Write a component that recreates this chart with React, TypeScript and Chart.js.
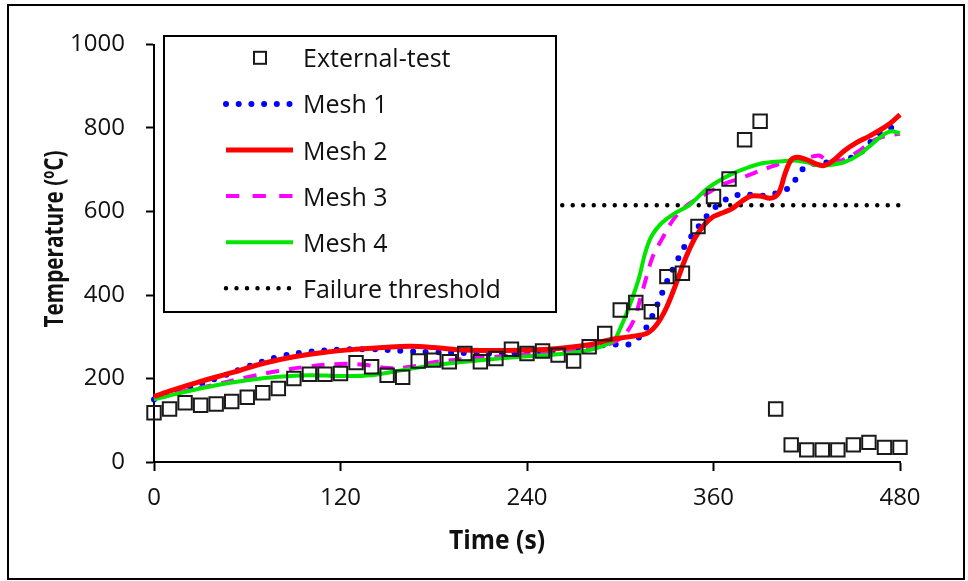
import { useEffect, useRef } from 'react';
import { Chart, registerables } from 'chart.js';

Chart.register(...registerables);

// Measured surface temperature (every 10 s)
const testTimes = [
  0, 10, 20, 30, 40, 50, 60, 70, 80, 90, 100, 110, 120, 130, 140, 150, 160, 170, 180, 190,
  200, 210, 220, 230, 240, 250, 260, 270, 280, 290, 300, 310, 320, 330, 340, 350, 360, 370,
  380, 390, 400, 410, 420, 430, 440, 450, 460, 470, 480,
];
const testTemps = [
  118, 127, 142, 136, 139, 145, 155, 166, 176, 200, 210, 210, 212, 238, 228, 208, 203, 242, 244, 240,
  260, 240, 248, 270, 260, 266, 256, 242, 276, 308, 364, 382, 360, 444, 452, 564, 636, 678,
  772, 816, 127, 41, 29, 29, 29, 41, 47, 35, 35,
];

// Simulated curves
const mesh1Times = [0, 20, 40, 60, 80, 100, 120, 140, 160, 180, 200, 220, 240, 260, 280, 292, 300, 306, 312, 318, 324, 330, 336, 342, 348, 354, 360, 366, 372, 380, 390, 398, 404, 410, 415, 420, 428, 440, 448, 455, 462, 468, 474, 480];
const mesh1Temps = [150, 175, 200, 228, 252, 264, 269, 270, 266, 263, 261, 260, 262, 266, 274, 281, 281, 282, 298, 330, 378, 432, 478, 520, 552, 582, 606, 624, 636, 641, 637, 642, 647, 662, 690, 710, 716, 719, 728, 742, 770, 790, 800, 815];

const mesh2Times = [0, 12, 30, 50, 70, 90, 110, 130, 150, 165, 180, 200, 220, 240, 260, 280, 290, 300, 310, 318, 324, 330, 336, 342, 348, 354, 360, 366, 372, 378, 384, 390, 397, 402, 406, 410, 414, 420, 426, 431, 437, 444, 452, 460, 468, 474, 480];
const mesh2Temps = [157, 172, 193, 214, 236, 252, 263, 270, 275, 277, 274, 268, 267, 268, 272, 281, 290, 297, 302, 310, 332, 372, 428, 488, 536, 568, 588, 597, 607, 624, 637, 637, 632, 645, 690, 724, 730, 724, 714, 710, 722, 745, 765, 780, 797, 812, 832];

const mesh3Times = [0, 20, 40, 60, 80, 100, 120, 135, 150, 165, 180, 200, 220, 240, 260, 280, 290, 298, 304, 309, 313, 317, 321, 327, 334, 342, 350, 358, 366, 376, 386, 396, 406, 416, 424, 428, 432, 438, 446, 454, 462, 470, 480];
const mesh3Temps = [152, 170, 186, 203, 218, 229, 235, 233, 225, 228, 239, 247, 252, 257, 262, 271, 279, 291, 310, 342, 392, 445, 493, 535, 580, 612, 632, 648, 665, 678, 692, 706, 718, 726, 732, 734, 725, 718, 728, 746, 768, 780, 786];

const mesh4Times = [0, 20, 40, 60, 80, 100, 120, 140, 160, 180, 200, 220, 240, 260, 280, 290, 296, 300, 304, 308, 312, 316, 320, 326, 334, 345, 355, 362, 372, 382, 392, 402, 412, 420, 428, 436, 444, 452, 460, 468, 474, 480];
const mesh4Temps = [150, 168, 184, 196, 204, 208, 206, 208, 220, 232, 240, 247, 253, 258, 268, 280, 292, 320, 355, 395, 440, 500, 540, 570, 593, 617, 652, 670, 690, 705, 716, 720, 722, 718, 710, 712, 718, 732, 755, 780, 792, 787];

// Failure threshold line (its left part sits behind the legend box)
const thresholdTimes = [60, 480];
const thresholdTemps = [615, 615];

const xTickValues = [0, 120, 240, 360, 480];
const yTickValues = [0, 200, 400, 600, 800, 1000];

const xTitle = 'Time (s)';
const yTitleMain = 'Temperature (';
const yTitleSup = 'o';
const yTitleEnd = 'C)';

const legendLabels = ['External-test', 'Mesh 1', 'Mesh 2', 'Mesh 3', 'Mesh 4', 'Failure threshold'];

const toPoints = (xs: number[], ys: number[]) => xs.map((x, i) => ({ x, y: ys[i] }));

const FONT = '"Open Sans", "DejaVu Sans", sans-serif';
const TEXT = '#111111';

// Boxed legend drawn inside the plot
const boxLegend = {
  id: 'boxLegend',
  afterDraw(chart: any) {
    const ctx: CanvasRenderingContext2D = chart.ctx;
    const box = { x: 155, y: 30, w: 392, h: 276 };
    ctx.save();
    ctx.fillStyle = '#ffffff';
    ctx.fillRect(box.x, box.y, box.w, box.h);
    ctx.lineWidth = 2;
    ctx.strokeStyle = '#000000';
    ctx.strokeRect(box.x, box.y, box.w, box.h);

    const rowStep = 46.1;
    const firstBase = 61.3;
    const sx0 = 217;
    const sx1 = 284;
    const textX = 294;
    const dsList = chart.data.datasets;

    legendLabels.forEach((label, i) => {
      const base = firstBase + i * rowStep;
      const cy = base - 9.5;
      const ds = dsList.find((d: any) => d.label === label);
      ctx.save();
      if (i === 0) {
        ctx.strokeStyle = ds.pointBorderColor;
        ctx.lineWidth = 2;
        ctx.strokeRect(251 - 6, cy - 6, 12, 12);
      } else {
        ctx.strokeStyle = ds.borderColor;
        ctx.lineWidth = ds.borderWidth;
        ctx.lineCap = ds.borderCapStyle || 'butt';
        ctx.setLineDash(ds.legendDash || ds.borderDash || []);
        ctx.beginPath();
        ctx.moveTo(sx0, cy);
        ctx.lineTo(ds.legendEnd || sx1, cy);
        ctx.stroke();
      }
      ctx.restore();
      ctx.fillStyle = TEXT;
      ctx.font = `25px ${FONT}`;
      ctx.textAlign = 'left';
      ctx.textBaseline = 'alphabetic';
      ctx.fillText(label, textX, base);
    });
    ctx.restore();
  },
};

// Axis titles, condensed to the plot's lettering
const axisTitles = {
  id: 'axisTitles',
  afterDraw(chart: any) {
    const ctx: CanvasRenderingContext2D = chart.ctx;
    ctx.save();
    ctx.fillStyle = TEXT;
    ctx.textBaseline = 'alphabetic';

    // horizontal title
    ctx.font = `bold 27px ${FONT}`;
    const xw = ctx.measureText(xTitle).width;
    ctx.save();
    ctx.translate(488, 543);
    ctx.scale(96 / xw, 1);
    ctx.textAlign = 'center';
    ctx.fillText(xTitle, 0, 0);
    ctx.restore();

    // vertical title with superscript o
    const mainFont = `bold 27px ${FONT}`;
    const supFont = `bold 17px ${FONT}`;
    ctx.font = mainFont;
    const w1 = ctx.measureText(yTitleMain).width;
    const w3 = ctx.measureText(yTitleEnd).width;
    ctx.font = supFont;
    const w2 = ctx.measureText(yTitleSup).width;
    const total = w1 + w2 + w3;
    ctx.save();
    ctx.translate(54, 233);
    ctx.rotate(-Math.PI / 2);
    ctx.scale(177 / total, 1);
    ctx.textAlign = 'left';
    let x = -total / 2;
    ctx.font = mainFont;
    ctx.fillText(yTitleMain, x, 0);
    x += w1;
    ctx.font = supFont;
    ctx.fillText(yTitleSup, x, -9);
    x += w2;
    ctx.font = mainFont;
    ctx.fillText(yTitleEnd, x, 0);
    ctx.restore();

    ctx.restore();
  },
};

export default function App() {
  const canvasRef = useRef<HTMLCanvasElement | null>(null);

  useEffect(() => {
    if (!canvasRef.current) return;
    const chart = new Chart(canvasRef.current, {
      type: 'line',
      data: {
        datasets: [
          {
            label: 'External-test',
            data: toPoints(testTimes, testTemps),
            showLine: false,
            pointStyle: 'rect',
            pointRadius: 9.5,
            pointBorderWidth: 2,
            pointBorderColor: '#1a1a1a',
            pointBackgroundColor: 'rgba(0,0,0,0)',
            borderColor: '#1a1a1a',
            order: 0,
            clip: false,
          },
          {
            label: 'Mesh 1',
            data: toPoints(mesh1Times, mesh1Temps),
            borderColor: '#0000ff',
            borderWidth: 6,
            borderDash: [0, 12.7],
            borderCapStyle: 'round',
            pointRadius: 0,
            tension: 0.35,
            order: 4,
            clip: false,
          } as any,
          {
            label: 'Mesh 2',
            data: toPoints(mesh2Times, mesh2Temps),
            borderColor: '#ff0000',
            borderWidth: 5,
            pointRadius: 0,
            tension: 0.35,
            order: 1,
            clip: false,
          },
          {
            label: 'Mesh 3',
            data: toPoints(mesh3Times, mesh3Temps),
            borderColor: '#ff00ff',
            borderWidth: 4,
            borderDash: [13, 10],
            legendDash: [13.3, 13.3],
            pointRadius: 0,
            tension: 0.35,
            order: 3,
            clip: false,
          } as any,
          {
            label: 'Mesh 4',
            data: toPoints(mesh4Times, mesh4Temps),
            borderColor: '#00e600',
            borderWidth: 4,
            pointRadius: 0,
            tension: 0.35,
            order: 2,
            clip: false,
          },
          {
            label: 'Failure threshold',
            data: toPoints(thresholdTimes, thresholdTemps),
            borderColor: '#000000',
            borderWidth: 4.5,
            borderDash: [0, 10.5],
            borderCapStyle: 'round',
            legendEnd: 281,
            pointRadius: 0,
            tension: 0,
            order: 5,
            clip: false,
          } as any,
        ],
      },
      options: {
        animation: false,
        responsive: false,
        devicePixelRatio: 1,
        layout: { padding: { left: 0, right: 63, top: 38.5, bottom: 0 } },
        plugins: {
          legend: { display: false },
          tooltip: { enabled: false },
        },
        scales: {
          x: {
            type: 'linear',
            min: 0,
            max: 480,
            ticks: {
              stepSize: 120,
              color: TEXT,
              font: { family: FONT, size: 24 },
              padding: 13,
              maxRotation: 0,
              callback: (v: any) => String(v),
            },
            grid: {
              drawOnChartArea: false,
              drawTicks: true,
              tickLength: 9,
              tickWidth: 2,
              color: '#000000',
            },
            border: { display: true, color: '#000000', width: 2 },
            afterBuildTicks: (s: any) => {
              s.ticks = xTickValues.map((v) => ({ value: v }));
            },
            afterFit: (s: any) => {
              s.height = 116;
            },
          },
          y: {
            type: 'linear',
            min: 0,
            max: 1000,
            ticks: {
              stepSize: 200,
              color: TEXT,
              font: { family: FONT, size: 24 },
              padding: 21,
              callback: (v: any) => String(v),
            },
            grid: {
              drawOnChartArea: false,
              drawTicks: true,
              tickLength: 8,
              tickWidth: 2,
              color: '#000000',
            },
            border: { display: true, color: '#000000', width: 2 },
            afterBuildTicks: (s: any) => {
              s.ticks = yTickValues.map((v) => ({ value: v }));
            },
            afterFit: (s: any) => {
              s.width = 145;
            },
          },
        },
      },
      plugins: [boxLegend, axisTitles],
    });
    return () => chart.destroy();
  }, []);

  return (
    <div
      style={{
        position: 'absolute',
        left: 7,
        top: 4,
        width: 958,
        height: 576,
        border: '2px solid #000',
        boxSizing: 'border-box',
        background: '#fff',
      }}
    >
      <canvas ref={canvasRef} width={954} height={572} style={{ display: 'block', width: 954, height: 572 }} />
    </div>
  );
}
